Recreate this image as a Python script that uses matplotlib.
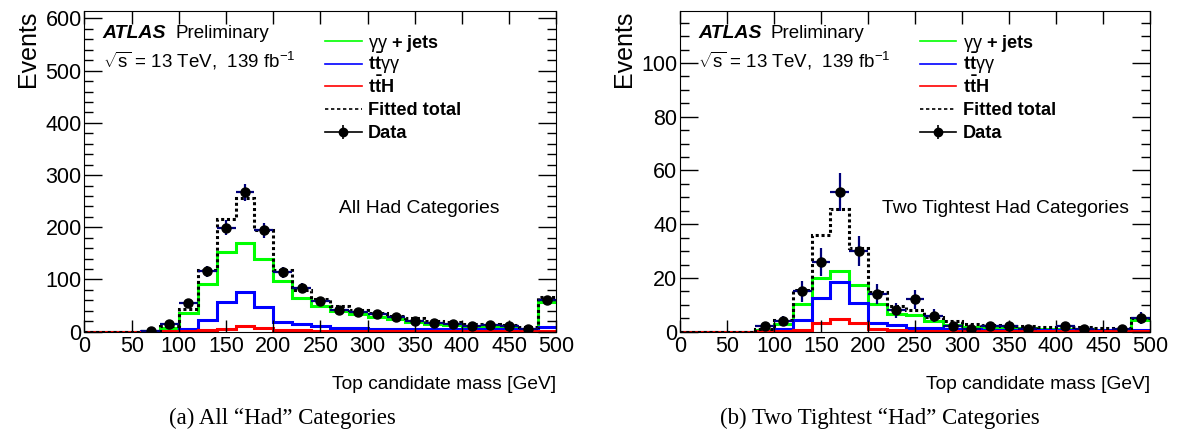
import numpy as np
import matplotlib
matplotlib.use("Agg")
import matplotlib.pyplot as plt
from matplotlib.lines import Line2D
from matplotlib.ticker import MultipleLocator, AutoMinorLocator

plt.rcParams["font.family"] = ["Liberation Sans", "DejaVu Sans"]
plt.rcParams["mathtext.fontset"] = "custom"
plt.rcParams["mathtext.rm"] = "Liberation Sans"
plt.rcParams["mathtext.bf"] = "Liberation Sans:bold"
plt.rcParams["mathtext.it"] = "Liberation Sans:italic"

# 20 GeV bins from 0 to 500 GeV
edges = np.arange(0, 520, 20)
centers = 0.5 * (edges[:-1] + edges[1:])

# All "Had" categories
gg_all = [0, 0, 0, 1, 8, 36, 92, 153, 170, 140, 97, 64, 49, 40, 33, 28, 24, 19,
          15, 12, 9, 8.5, 7, 3.5, 57]
ttgg_all = [0, 0, 0, 0.5, 2, 6, 23, 57, 77, 47, 19, 14, 11, 8, 7, 6, 5.5, 5,
            5, 5, 5, 5, 5, 5, 9]
tth_all = [0, 0, 0, 0, 0.5, 1, 3, 6, 10, 7, 3, 2.5, 2, 2, 2, 1.5, 1.5, 1.5,
           1, 1, 1, 1, 1, 1, 1]
data_all = [0, 0, 0, 1, 15, 55, 116, 199, 267, 194, 114, 84, 58, 42, 37, 34,
            28, 21, 16, 14, 10, 13, 11, 6, 61]

# Two tightest "Had" categories
gg_tight = [0, 0, 0, 0, 0.6, 3, 10.3, 20, 22.7, 17.4, 10.2, 6.5, 6.2, 4, 2.6,
            1.8, 1.6, 1.4, 1.2, 1.1, 1.1, 0.9, 0.8, 0.7, 4.2]
ttgg_tight = [0, 0, 0, 0, 0.3, 1.1, 4.3, 12.7, 18.4, 10.6, 3.4, 2.4, 1.5, 1.2,
              1.0, 0.9, 0.8, 0.7, 0.7, 0.6, 0.6, 0.5, 0.5, 0.5, 0.7]
tth_tight = [0, 0, 0, 0, 0.1, 0.3, 0.8, 3.2, 4.7, 3.1, 1.0, 0.6, 0.4, 0.3, 0.3,
             0.2, 0.2, 0.2, 0.2, 0.2, 0.2, 0.2, 0.2, 0.2, 0.2]
data_tight = [0, 0, 0, 0, 2, 4, 15, 26, 52, 30, 14, 8, 12, 6, 2, 1, 2, 2, 1, 0,
              2, 1, 0, 1, 5]

legend_labels = [
    r"$\mathrm{\gamma\gamma}$ + jets",
    r"$\mathbf{t\bar{t}}\mathrm{\gamma\gamma}$",
    r"$\mathbf{t\bar{t}H}$",
    "Fitted total",
    "Data",
]

GREEN = "#00ff00"
BLUE = "#0000ff"
RED = "#ff0000"
ERRCOL = "#00007a"
DOTS = (0, (1, 0.9))


def draw_legend(ax):
    # ROOT-style legend, one row at a time in axes coordinates
    rows = [0.905, 0.834, 0.764, 0.694, 0.623]
    x0, x1, xt = 0.51, 0.587, 0.601
    styles = [dict(color=GREEN), dict(color=BLUE), dict(color=RED),
              dict(color="black", linestyle=(0, (2, 1.6)))]
    tr = ax.transAxes
    for y, st in zip(rows[:4], styles):
        ax.add_line(Line2D([x0, x1], [y, y], transform=tr, lw=1.2, **st))
    y = rows[4]
    xm = 0.5 * (x0 + x1)
    ax.add_line(Line2D([x0, x1], [y, y], transform=tr, lw=1.2, color="black"))
    ax.add_line(Line2D([xm], [y], transform=tr, marker="o", ms=6,
                       color="black"))
    ax.add_line(Line2D([xm], [y], transform=tr, marker="|", ms=10, mew=1.2,
                       color="black"))
    for y, lab in zip(rows, legend_labels):
        ax.text(xt, y - 0.02, lab, transform=tr, fontsize=13.1,
                fontweight="bold", va="baseline")


def draw_panel(ax, gg, ttgg, tth, data, ymax, major, nminor, label, label_x):
    gg = np.array(gg, float)
    ttgg = np.array(ttgg, float)
    tth = np.array(tth, float)
    data = np.array(data, float)
    total = gg + ttgg + tth

    ax.stairs(gg, edges, baseline=None, color=GREEN, lw=2.2)
    ax.stairs(ttgg, edges, baseline=None, color=BLUE, lw=2.2)
    ax.stairs(tth, edges, baseline=None, color=RED, lw=2.2)
    ax.stairs(total, edges, baseline=None, color="black", lw=2.2,
              linestyle=DOTS)

    m = data > 0
    ax.errorbar(centers[m], data[m], xerr=10, yerr=np.sqrt(data[m]),
                fmt="o", color="black", ms=6.5, ecolor=ERRCOL, elinewidth=1.6,
                capsize=0, zorder=5)

    ax.set_xlim(0, 500)
    ax.set_ylim(0, ymax)
    ax.xaxis.set_major_locator(MultipleLocator(50))
    ax.yaxis.set_major_locator(MultipleLocator(major))
    ax.yaxis.set_minor_locator(AutoMinorLocator(nminor))
    ax.tick_params(which="both", direction="in", top=True, right=True,
                   labelsize=15.5, width=1)
    ax.tick_params(axis="y", which="major", length=13, pad=2)
    ax.tick_params(axis="y", which="minor", length=6.5)
    ax.tick_params(axis="x", which="major", length=9, pad=3)

    ax.set_ylabel("Events", loc="top", fontsize=18, labelpad=4)
    ax.set_xlabel("Top candidate mass [GeV]", loc="right", fontsize=13.8,
                  labelpad=14)

    ax.text(0.039, 0.93, "ATLAS", transform=ax.transAxes, fontsize=14,
            fontweight="bold", fontstyle="italic", va="center")
    ax.text(0.192, 0.93, "Preliminary", transform=ax.transAxes, fontsize=13.5,
            va="center")
    ax.text(0.039, 0.843, r"$\sqrt{\mathrm{s}}$ = 13 TeV,  139 fb$^{\mathrm{-1}}$",
            transform=ax.transAxes, fontsize=13.5, va="center")
    ax.text(label_x, 0.385, label, transform=ax.transAxes, fontsize=13.9,
            va="center")

    draw_legend(ax)


fig = plt.figure(figsize=(11.8, 4.38), dpi=100)
ax1 = fig.add_axes([0.0716, 0.2427, 0.4, 0.733])
ax2 = fig.add_axes([0.5763, 0.2427, 0.3983, 0.733])

draw_panel(ax1, gg_all, ttgg_all, tth_all, data_all, 615, 100, 5,
           "All Had Categories", 0.54)
draw_panel(ax2, gg_tight, ttgg_tight, tth_tight, data_tight, 119.5, 20, 4,
           "Two Tightest Had Categories", 0.43)

fig.text(0.239, 0.0457, "(a) All \u201cHad\u201d Categories", ha="center",
         va="center", family="Liberation Serif", fontsize=16.5)
fig.text(0.746, 0.0457, "(b) Two Tightest \u201cHad\u201d Categories",
         ha="center", va="center", family="Liberation Serif", fontsize=16.5)

fig.savefig("out.png", dpi=100)
